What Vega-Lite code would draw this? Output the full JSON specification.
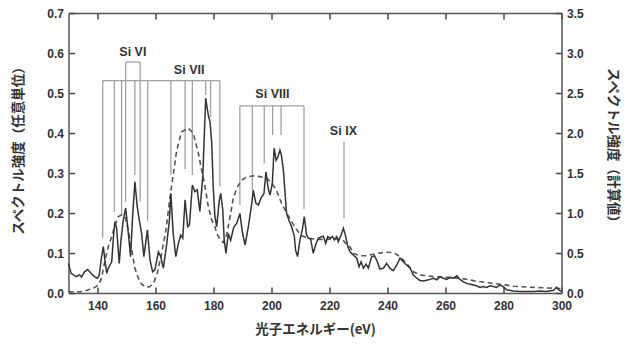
{
  "$schema": "https://vega.github.io/schema/vega-lite/v6.json",
  "width": 493,
  "height": 280,
  "autosize": "none",
  "padding": {"left": 68.5, "top": 13, "right": 62.5, "bottom": 54},
  "config": {
    "view": {"stroke": null},
    "axis": {
      "grid": false,
      "domainColor": "#555555",
      "domainWidth": 1.5,
      "tickColor": "#444444",
      "tickWidth": 1.5,
      "labelFont": "Liberation Sans",
      "labelFontWeight": "bold",
      "labelFontSize": 12,
      "labelColor": "#333333",
      "titleFont": "Noto Sans CJK JP",
      "titleFontWeight": "bold",
      "titleFontSize": 13.5,
      "titleColor": "#333333"
    }
  },
  "datasets": {
    "meas": [
      {"e":130,"v":0.074},{"e":130.9,"v":0.049},{"e":132.6,"v":0.041},{"e":133.8,"v":0.045},{"e":134.5,"v":0.040},
      {"e":135.5,"v":0.053},{"e":136.6,"v":0.059},{"e":137.7,"v":0.050},{"e":138.9,"v":0.041},{"e":140.0,"v":0.037},
      {"e":140.6,"v":0.045},{"e":141.3,"v":0.085},{"e":142.0,"v":0.116},{"e":142.6,"v":0.080},{"e":143.2,"v":0.049},
      {"e":143.7,"v":0.062},{"e":144.9,"v":0.078},{"e":145.5,"v":0.14},{"e":146.0,"v":0.178},{"e":146.6,"v":0.162},
      {"e":147.5,"v":0.074},{"e":148.1,"v":0.133},{"e":148.9,"v":0.183},{"e":149.7,"v":0.212},{"e":150.4,"v":0.166},
      {"e":151.4,"v":0.091},{"e":152.1,"v":0.191},{"e":152.9,"v":0.278},{"e":153.7,"v":0.216},{"e":154.4,"v":0.183},
      {"e":155.2,"v":0.149},{"e":156.0,"v":0.091},{"e":157.2,"v":0.158},{"e":158.1,"v":0.083},{"e":159.0,"v":0.053},
      {"e":159.8,"v":0.058},{"e":161.0,"v":0.103},{"e":161.8,"v":0.091},{"e":162.7,"v":0.062},{"e":163.9,"v":0.124},
      {"e":164.8,"v":0.183},{"e":165.3,"v":0.249},{"e":166.1,"v":0.149},{"e":167.0,"v":0.091},{"e":167.9,"v":0.124},
      {"e":168.7,"v":0.145},{"e":169.4,"v":0.137},{"e":170.2,"v":0.233},{"e":171.1,"v":0.166},{"e":171.7,"v":0.17},
      {"e":172.7,"v":0.27},{"e":173.6,"v":0.253},{"e":174.4,"v":0.258},{"e":175.3,"v":0.204},{"e":176.3,"v":0.291},
      {"e":177.3,"v":0.487},{"e":178.2,"v":0.445},{"e":178.8,"v":0.428},{"e":179.4,"v":0.374},{"e":179.9,"v":0.266},
      {"e":180.5,"v":0.19},{"e":181.1,"v":0.166},{"e":182.0,"v":0.232},{"e":182.5,"v":0.249},{"e":183.2,"v":0.207},
      {"e":183.7,"v":0.132},{"e":184.3,"v":0.099},{"e":185.1,"v":0.149},{"e":185.9,"v":0.132},{"e":187.0,"v":0.165},
      {"e":188.0,"v":0.174},{"e":189.1,"v":0.199},{"e":190.0,"v":0.15},{"e":190.9,"v":0.12},{"e":192.0,"v":0.165},
      {"e":193.2,"v":0.224},{"e":193.7,"v":0.257},{"e":194.6,"v":0.225},{"e":195.5,"v":0.22},{"e":196.3,"v":0.236},
      {"e":197.4,"v":0.249},{"e":198.1,"v":0.303},{"e":198.9,"v":0.26},{"e":199.5,"v":0.245},{"e":200.3,"v":0.275},
      {"e":200.9,"v":0.362},{"e":201.6,"v":0.332},{"e":202.2,"v":0.34},{"e":202.9,"v":0.357},{"e":203.4,"v":0.345},
      {"e":204.1,"v":0.307},{"e":204.6,"v":0.257},{"e":205.2,"v":0.199},{"e":206.0,"v":0.182},{"e":206.9,"v":0.166},
      {"e":207.9,"v":0.141},{"e":208.3,"v":0.107},{"e":209.0,"v":0.091},{"e":209.8,"v":0.132},{"e":210.6,"v":0.157},
      {"e":211.3,"v":0.191},{"e":212.1,"v":0.145},{"e":212.7,"v":0.137},{"e":213.5,"v":0.135},{"e":214.4,"v":0.099},
      {"e":215.2,"v":0.12},{"e":216.1,"v":0.137},{"e":217.0,"v":0.140},{"e":217.9,"v":0.142},{"e":218.7,"v":0.124},
      {"e":219.4,"v":0.141},{"e":220.2,"v":0.137},{"e":221.0,"v":0.141},{"e":221.7,"v":0.133},{"e":222.5,"v":0.141},
      {"e":223.0,"v":0.128},{"e":224.0,"v":0.145},{"e":224.8,"v":0.162},{"e":225.6,"v":0.141},{"e":226.3,"v":0.116},
      {"e":227.1,"v":0.103},{"e":228.2,"v":0.095},{"e":229.4,"v":0.087},{"e":230.2,"v":0.066},{"e":230.9,"v":0.078},
      {"e":231.7,"v":0.062},{"e":232.6,"v":0.072},{"e":233.4,"v":0.062},{"e":234.5,"v":0.090},{"e":235.5,"v":0.093},
      {"e":236.3,"v":0.082},{"e":237.4,"v":0.060},{"e":238.6,"v":0.062},{"e":239.7,"v":0.074},{"e":240.8,"v":0.062},
      {"e":242.0,"v":0.056},{"e":243.2,"v":0.070},{"e":244.3,"v":0.087},{"e":245.4,"v":0.078},{"e":246.6,"v":0.070},
      {"e":247.8,"v":0.062},{"e":248.9,"v":0.045},{"e":250.1,"v":0.037},{"e":251.2,"v":0.031},{"e":252.4,"v":0.030},
      {"e":253.5,"v":0.032},{"e":254.7,"v":0.034},{"e":255.8,"v":0.037},{"e":257.0,"v":0.033},{"e":258.1,"v":0.041},
      {"e":259.3,"v":0.037},{"e":260.4,"v":0.034},{"e":261.6,"v":0.039},{"e":262.7,"v":0.037},{"e":263.9,"v":0.043},
      {"e":265.0,"v":0.034},{"e":266.2,"v":0.028},{"e":267.3,"v":0.024},{"e":268.5,"v":0.022},{"e":269.6,"v":0.020},
      {"e":270.7,"v":0.018},{"e":271.9,"v":0.014},{"e":273.0,"v":0.016},{"e":274.2,"v":0.014},{"e":275.3,"v":0.018},
      {"e":276.5,"v":0.016},{"e":277.6,"v":0.014},{"e":278.8,"v":0.020},{"e":279.9,"v":0.016},{"e":281.1,"v":0.008},
      {"e":283.4,"v":0.005},{"e":285.7,"v":0.004},{"e":288.0,"v":0.004},{"e":290.3,"v":0.004},{"e":292.6,"v":0.005},
      {"e":294.9,"v":0.004},{"e":297.2,"v":0.007},{"e":298.3,"v":0.014},{"e":299.2,"v":0.007},{"e":300,"v":0.004}
    ],
    "calc": [
      {"e":130,"c":0.015},{"e":134,"c":0.015},{"e":136.3,"c":0.035},{"e":138.6,"c":0.06},{"e":140.3,"c":0.1},
      {"e":141.4,"c":0.185},{"e":142.6,"c":0.41},{"e":143.7,"c":0.58},{"e":144.9,"c":0.705},{"e":146.0,"c":0.85},
      {"e":147.2,"c":0.955},{"e":148.3,"c":0.975},{"e":149.5,"c":0.955},{"e":150.6,"c":0.79},{"e":151.8,"c":0.54},
      {"e":152.9,"c":0.31},{"e":154.1,"c":0.185},{"e":155.2,"c":0.11},{"e":156.7,"c":0.07},{"e":158.1,"c":0.08},
      {"e":159.5,"c":0.14},{"e":160.6,"c":0.245},{"e":162.1,"c":0.495},{"e":163.6,"c":0.785},{"e":165.0,"c":1.2},
      {"e":166.2,"c":1.5},{"e":167.3,"c":1.78},{"e":169.0,"c":2.015},{"e":171.3,"c":2.06},{"e":173.0,"c":2.0},
      {"e":174.8,"c":1.745},{"e":175.9,"c":1.535},{"e":177.1,"c":1.33},{"e":178.2,"c":1.08},{"e":179.4,"c":0.91},
      {"e":180.5,"c":0.83},{"e":181.1,"c":0.745},{"e":182.2,"c":0.675},{"e":183.4,"c":0.63},{"e":184.5,"c":0.725},
      {"e":185.7,"c":0.95},{"e":186.8,"c":1.18},{"e":188.0,"c":1.31},{"e":189.7,"c":1.41},{"e":191.4,"c":1.45},
      {"e":193.7,"c":1.465},{"e":196.0,"c":1.455},{"e":198.3,"c":1.435},{"e":200.1,"c":1.375},{"e":201.8,"c":1.275},
      {"e":203.5,"c":1.12},{"e":205.2,"c":1.0},{"e":207.0,"c":0.89},{"e":208.7,"c":0.79},{"e":210.4,"c":0.715},
      {"e":212.7,"c":0.685},{"e":215.6,"c":0.67},{"e":219.0,"c":0.67},{"e":222.5,"c":0.68},{"e":224.8,"c":0.655},
      {"e":226.0,"c":0.6},{"e":227.1,"c":0.575},{"e":228.2,"c":0.495},{"e":230.5,"c":0.465},{"e":232.8,"c":0.465},
      {"e":236.3,"c":0.495},{"e":239.7,"c":0.51},{"e":242.0,"c":0.505},{"e":244.3,"c":0.455},{"e":246.6,"c":0.37},
      {"e":248.9,"c":0.265},{"e":251.2,"c":0.225},{"e":255.8,"c":0.205},{"e":260.4,"c":0.195},{"e":265.0,"c":0.185},
      {"e":269.6,"c":0.155},{"e":274.2,"c":0.13},{"e":278.8,"c":0.11},{"e":283.4,"c":0.085},{"e":290.3,"c":0.07},
      {"e":297.2,"c":0.06},{"e":300,"c":0.055}
    ],
    "vlines": [
      {"e":141.8,"lo":0.1375,"hi":0.531},{"e":145.8,"lo":0.203,"hi":0.531},{"e":148.3,"lo":0.195,"hi":0.531},
      {"e":149.7,"lo":0.228,"hi":0.5775},{"e":152.9,"lo":0.295,"hi":0.531},{"e":154.7,"lo":0.228,"hi":0.5775},
      {"e":157.3,"lo":0.18,"hi":0.531},{"e":165.3,"lo":0.295,"hi":0.531},{"e":170.2,"lo":0.31,"hi":0.531},
      {"e":172.7,"lo":0.295,"hi":0.531},{"e":177.3,"lo":0.495,"hi":0.531},{"e":179.0,"lo":0.44,"hi":0.531},
      {"e":182.2,"lo":0.266,"hi":0.531},
      {"e":189.1,"lo":0.22,"hi":0.468},{"e":193.4,"lo":0.257,"hi":0.468},{"e":197.5,"lo":0.324,"hi":0.468},
      {"e":200.4,"lo":0.395,"hi":0.468},{"e":203.3,"lo":0.395,"hi":0.468},{"e":211.2,"lo":0.21,"hi":0.468},
      {"e":225.0,"lo":0.187,"hi":0.378}
    ],
    "hlines": [
      {"e1":141.8,"e2":182.2,"y":0.531},
      {"e1":149.7,"e2":154.7,"y":0.5775},
      {"e1":189.1,"e2":211.2,"y":0.468}
    ],
    "labels": [
      {"e":152.2,"y":0.603,"t":"Si VI"},
      {"e":171.6,"y":0.5575,"t":"Si VII"},
      {"e":200.3,"y":0.497,"t":"Si VIII"},
      {"e":224.8,"y":0.405,"t":"Si IX"}
    ]
  },
  "layer": [
    {
      "data": {"name": "vlines"},
      "mark": {"type": "rule", "color": "#a0a0a0", "strokeWidth": 1.3},
      "encoding": {
        "x": {"field": "e", "type": "quantitative", "scale": {"domain": [130, 300], "nice": false}, "axis": null},
        "y": {"field": "lo", "type": "quantitative", "scale": {"domain": [0, 0.7], "nice": false}, "axis": null},
        "y2": {"field": "hi"}
      }
    },
    {
      "data": {"name": "hlines"},
      "mark": {"type": "rule", "color": "#a0a0a0", "strokeWidth": 1.3},
      "encoding": {
        "x": {"field": "e1", "type": "quantitative", "scale": {"domain": [130, 300], "nice": false}, "axis": null},
        "x2": {"field": "e2"},
        "y": {"field": "y", "type": "quantitative", "scale": {"domain": [0, 0.7], "nice": false}, "axis": null}
      }
    },
    {
      "data": {"name": "labels"},
      "mark": {"type": "text", "font": "Liberation Sans", "fontWeight": "bold", "fontSize": 12.5, "color": "#333333", "baseline": "middle", "align": "center"},
      "encoding": {
        "x": {"field": "e", "type": "quantitative", "scale": {"domain": [130, 300], "nice": false}, "axis": null},
        "y": {"field": "y", "type": "quantitative", "scale": {"domain": [0, 0.7], "nice": false}, "axis": null},
        "text": {"field": "t"}
      }
    },
    {
      "data": {"name": "calc"},
      "mark": {"type": "line", "color": "#555555", "strokeWidth": 1.6, "strokeDash": [5, 3.5]},
      "encoding": {
        "x": {"field": "e", "type": "quantitative", "scale": {"domain": [130, 300], "nice": false},
              "axis": {"orient": "top", "tickSize": -6, "values": [140, 160, 180, 200, 220, 240, 260, 280, 300], "labels": false, "title": null}},
        "y": {"field": "c", "type": "quantitative", "scale": {"domain": [0, 3.5], "nice": false},
              "axis": {"orient": "right", "tickSize": -6, "values": [0, 0.5, 1, 1.5, 2, 2.5, 3, 3.5], "format": ".1f", "labelPadding": 11,
                       "title": "スペクトル強度（計算値）", "titleAngle": 90, "titleX": 51, "titleY": 135, "titleAlign": "center", "titleBaseline": "middle"}}
      }
    },
    {
      "data": {"name": "meas"},
      "mark": {"type": "line", "color": "#333333", "strokeWidth": 1.5},
      "encoding": {
        "x": {"field": "e", "type": "quantitative", "scale": {"domain": [130, 300], "nice": false},
              "axis": {"orient": "bottom", "tickSize": -6, "values": [140, 160, 180, 200, 220, 240, 260, 280, 300], "format": "d", "labelPadding": 13, "labelFlush": false,
                       "title": "光子エネルギー(eV)", "titleX": 246.5, "titleY": 36, "titleAlign": "center", "titleBaseline": "middle"}},
        "y": {"field": "v", "type": "quantitative", "scale": {"domain": [0, 0.7], "nice": false},
              "axis": {"orient": "left", "tickSize": -6, "values": [0, 0.1, 0.2, 0.3, 0.4, 0.5, 0.6, 0.7], "format": ".1f", "labelPadding": 11,
                       "title": "スペクトル強度（任意単位）", "titleAngle": -90, "titleX": -50.5, "titleY": 134, "titleAlign": "center", "titleBaseline": "middle"}}
      }
    }
  ],
  "resolve": {"scale": {"y": "independent"}, "axis": {"x": "independent"}}
}
